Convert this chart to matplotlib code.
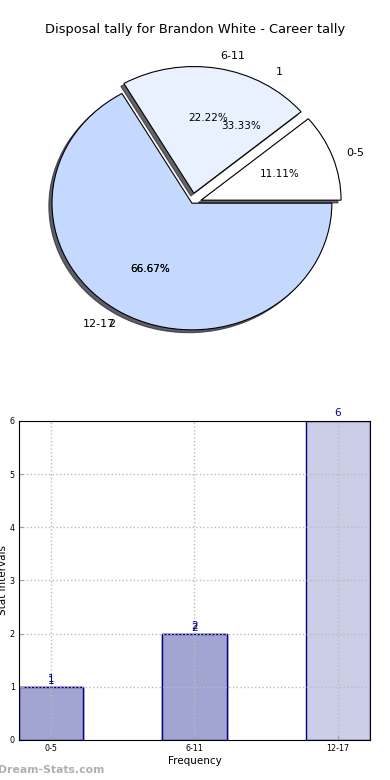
import numpy as np
import matplotlib.pyplot as plt

# data
intervals = ["0-5", "6-11", "12-17"]
counts = [1, 2, 6]
extra_labels = ["1", "2"]
extra_counts = [1, 2]
pie_colors = ["#ffffff", "#eaf1fe", "#c5d9fe"]

fig = plt.figure(figsize=(3.9, 7.8), dpi=100)

# pie (a second pie is drawn underneath, only its texts show)
ax1 = fig.add_axes([0.0436, 0.5365, 0.897, 0.406])
w2, t2, a2 = ax1.pie(extra_counts, labels=extra_labels, explode=(0.1, 0),
                     autopct="%.2f%%", colors=pie_colors[:2],
                     textprops=dict(fontsize=8))
for w in w2:
    w.set_visible(False)
for t in a2:
    t.set_fontsize(7.5)

wedges, texts, autotexts = ax1.pie(counts, labels=intervals, explode=(0.07, 0.08, 0),
                                   autopct="%.2f%%", colors=pie_colors,
                                   shadow={"ox": -0.016, "oy": -0.016, "shade": 0.8, "alpha": 0.75},
                                   wedgeprops=dict(edgecolor="black", linewidth=0.8),
                                   textprops=dict(fontsize=8))
for t in autotexts:
    t.set_fontsize(7.5)
ax1.set_aspect("auto")
ax1.set_xlim(-1.25, 1.25)
ax1.set_ylim(-1.25, 1.25)
fig.text(0.5, 1 - 30 / 780, "Disposal tally for Brandon White - Career tally",
         ha="center", va="center", fontsize=9.4)

# bars
ax2 = fig.add_axes([0.0487, 0.0513, 0.9, 0.409])
x = np.arange(len(intervals))
ax2.bar(x, counts, width=0.45, color="#cccde6", edgecolor="#000080", linewidth=1)
ax2.bar(x[:len(extra_counts)], extra_counts, width=0.45, color="#a2a4d2",
        edgecolor="#000080", linewidth=1)
for i, v in enumerate(counts):
    ax2.text(x[i], v + 0.05, str(v), ha="center", va="bottom", color="#00008b", fontsize=7.5)
for i, v in enumerate(extra_counts):
    ax2.text(x[i], v + 0.01, str(v), ha="center", va="bottom", color="#00008b", fontsize=7.5)

ax2.set_xlim(-0.225, 2.225)
ax2.set_ylim(0, 6)
ax2.set_xticks(x)
ax2.set_xticklabels(intervals)
ax2.set_yticks(range(7))
ax2.tick_params(labelsize=5.8, direction="in", color="#999999", length=3, pad=3)
ax2.grid(True, linestyle=":", color="#bbbbbb", linewidth=1)
ax2.set_axisbelow(False)
for s in ax2.spines.values():
    s.set_zorder(5)
ax2.set_xlabel("Frequency", fontsize=7.5, labelpad=2)
ax2.set_ylabel("Stat Intervals", fontsize=7.5)
ax2.yaxis.set_label_coords(-0.03, 0.5)

fig.text(-0.005, 1 - 770 / 780, "Dream-Stats.com", ha="left", va="center",
         fontsize=7.8, fontweight="bold", color="#b0b0b0")

fig.savefig("out.png", dpi=100)
